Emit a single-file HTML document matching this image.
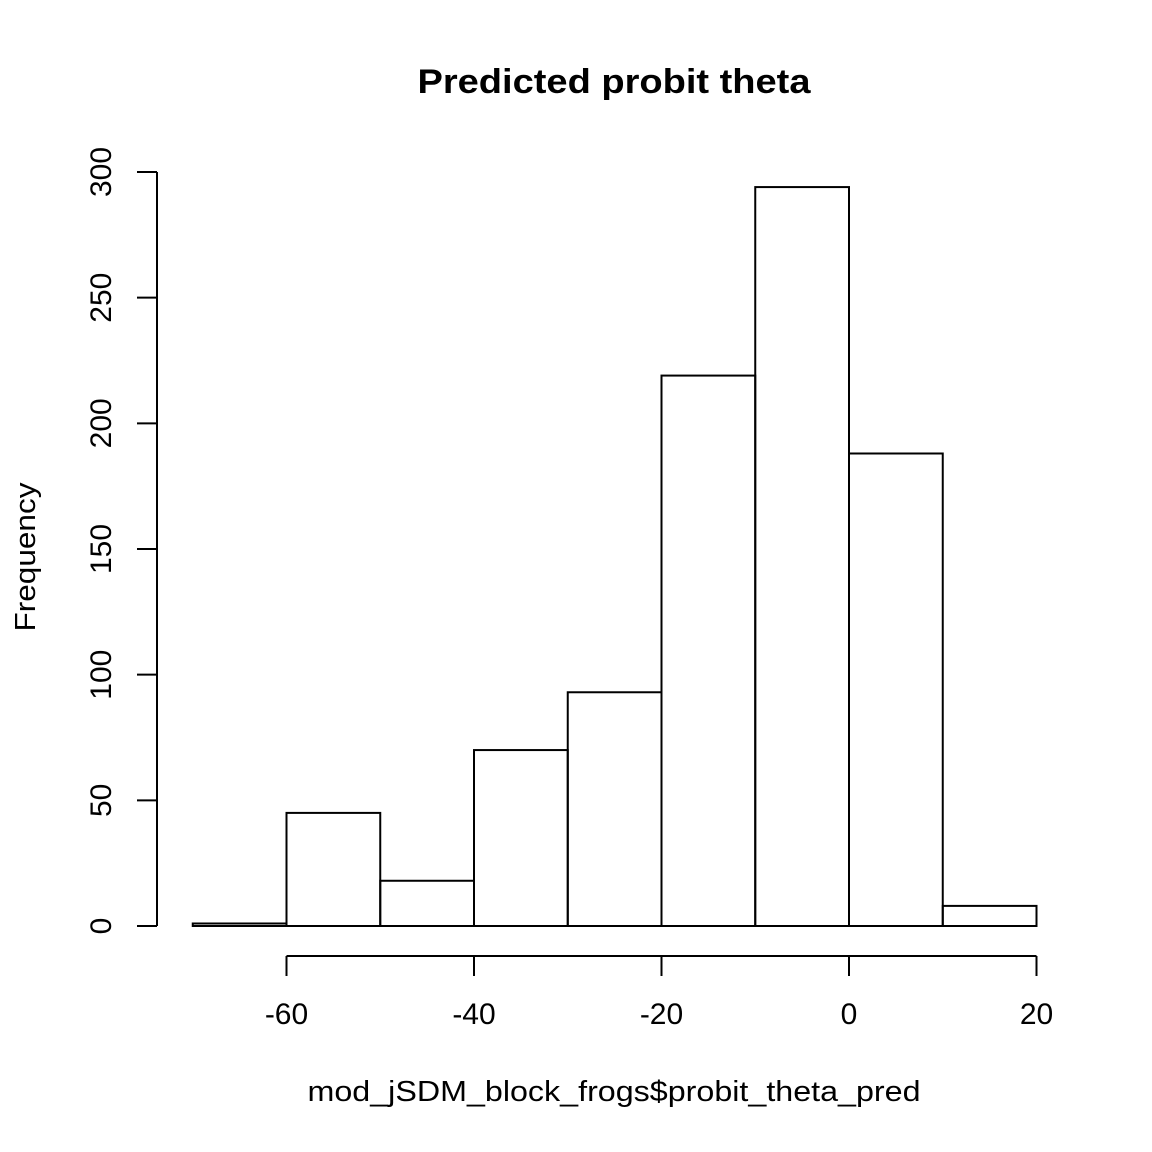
<!DOCTYPE html>
<html><head><meta charset="utf-8"><style>
body{margin:0;background:#fff}
svg{display:block;font-family:"Liberation Sans",Arial,sans-serif}
</style></head><body>
<svg id="chart" width="1152" height="1152" viewBox="0 0 1152 1152">
<rect width="1152" height="1152" fill="#fff"/>
<text x="614" y="93" font-size="34" font-weight="bold" text-anchor="middle" textLength="393" lengthAdjust="spacingAndGlyphs">Predicted probit theta</text>
<text x="614" y="1101" font-size="29" text-anchor="middle" textLength="613" lengthAdjust="spacingAndGlyphs">mod_jSDM_block_frogs$probit_theta_pred</text>
<text transform="translate(35,557) rotate(-90)" font-size="29" text-anchor="middle" textLength="149" lengthAdjust="spacingAndGlyphs">Frequency</text>
<g id="bars"></g><g id="xaxis"></g><g id="yaxis"></g>
</svg>
<script>
const breaks = [-70,-60,-50,-40,-30,-20,-10,0,10,20];
const counts = [1,45,18,70,93,219,294,188,8];
const xTicks = [-60,-40,-20,0,20];
const yTicks = [0,50,100,150,200,250,300];
const NS='http://www.w3.org/2000/svg';
const x = v => 849 + v*9.375;
const y = v => 926 - v*(754/300);
function mk(tag, attrs, parent){const e=document.createElementNS(NS,tag);for(const k in attrs)e.setAttribute(k,attrs[k]);parent.appendChild(e);return e;}
const bars=document.getElementById('bars');
counts.forEach((c,i)=>{
  const r=mk('rect',{x:x(breaks[i]),y:y(c),width:x(breaks[i+1])-x(breaks[i]),height:y(0)-y(c),fill:'none',stroke:'#000','stroke-width':2},bars);
  
  
});
const xa=document.getElementById('xaxis');
const xl=mk('line',{x1:x(xTicks[0]),x2:x(xTicks[xTicks.length-1]),y1:956,y2:956,stroke:'#000','stroke-width':2},xa);


xTicks.forEach(t=>{
  mk('line',{x1:x(t),x2:x(t),y1:956,y2:976,stroke:'#000','stroke-width':2},xa);
  const tx=mk('text',{x:x(t),y:1024,'font-size':30,'text-anchor':'middle'},xa);
  tx.textContent=t;
  
  
});
const ya=document.getElementById('yaxis');
const yl=mk('line',{x1:157,x2:157,y1:y(yTicks[yTicks.length-1]),y2:y(0),stroke:'#000','stroke-width':2},ya);


yTicks.forEach(t=>{
  mk('line',{x1:137,x2:157,y1:y(t),y2:y(t),stroke:'#000','stroke-width':2},ya);
  const tx=mk('text',{transform:`translate(111,${y(t)}) rotate(-90)`,'font-size':30,'text-anchor':'middle'},ya);
  tx.textContent=t;
  
  
});
</script>
</body></html>
